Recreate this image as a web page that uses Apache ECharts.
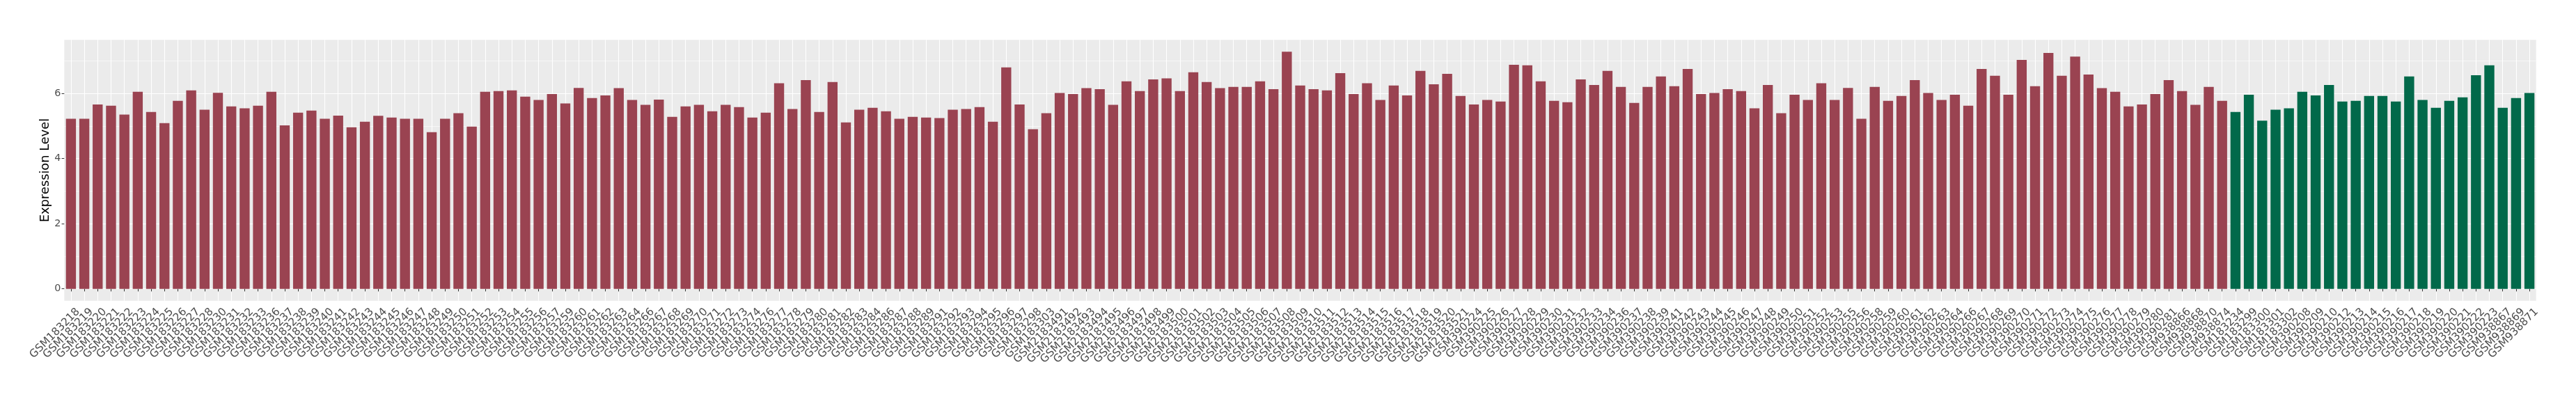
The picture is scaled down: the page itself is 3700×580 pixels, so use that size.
<!DOCTYPE html>
<html><head><meta charset="utf-8">
<script src="https://cdn.jsdelivr.net/npm/echarts@6/dist/echarts.min.js"></script>
<style>html,body{margin:0;padding:0;background:#fff}#c{width:3700px;height:580px}</style>
</head><body><div id="c"></div>
<script>
// Tumor samples (red bars)
const tumorSamples = [
 'GSM183218','GSM183219','GSM183220','GSM183221','GSM183222','GSM183223','GSM183224','GSM183225','GSM183226','GSM183227',
 'GSM183228','GSM183230','GSM183231','GSM183232','GSM183233','GSM183236','GSM183237','GSM183238','GSM183239','GSM183240',
 'GSM183241','GSM183242','GSM183243','GSM183244','GSM183245','GSM183246','GSM183247','GSM183248','GSM183249','GSM183250',
 'GSM183251','GSM183252','GSM183253','GSM183254','GSM183255','GSM183256','GSM183257','GSM183259','GSM183260','GSM183261',
 'GSM183262','GSM183263','GSM183264','GSM183266','GSM183267','GSM183268','GSM183269','GSM183270','GSM183271','GSM183272',
 'GSM183273','GSM183274','GSM183276','GSM183277','GSM183278','GSM183279','GSM183280','GSM183281','GSM183282','GSM183283',
 'GSM183284','GSM183286','GSM183287','GSM183288','GSM183289','GSM183291','GSM183292','GSM183293','GSM183294','GSM183295',
 'GSM183296','GSM183297','GSM183298','GSM183303',
 'GSM2183491','GSM2183492','GSM2183493','GSM2183494','GSM2183495','GSM2183496','GSM2183497','GSM2183498','GSM2183499','GSM2183500',
 'GSM2183501','GSM2183502','GSM2183503','GSM2183504','GSM2183505','GSM2183506','GSM2183507','GSM2183508','GSM2183509','GSM2183510',
 'GSM2183511','GSM2183512','GSM2183513','GSM2183514','GSM2183515','GSM2183516','GSM2183517','GSM2183518','GSM2183519','GSM2183520',
 'GSM2183521',
 'GSM390224','GSM390225','GSM390226','GSM390227','GSM390228','GSM390229','GSM390230','GSM390231','GSM390232','GSM390233',
 'GSM390234','GSM390236','GSM390237','GSM390238','GSM390239','GSM390241','GSM390242','GSM390243','GSM390244','GSM390245',
 'GSM390246','GSM390247','GSM390248','GSM390249','GSM390250','GSM390251','GSM390252','GSM390253','GSM390255','GSM390256',
 'GSM390258','GSM390259','GSM390260','GSM390261','GSM390262','GSM390263','GSM390264','GSM390266','GSM390267','GSM390268',
 'GSM390269','GSM390270','GSM390271','GSM390272','GSM390273','GSM390274','GSM390275','GSM390276','GSM390277','GSM390278',
 'GSM390279','GSM390280','GSM390281','GSM938866','GSM938868','GSM938870','GSM938874'
];
const tumorValues = [
 5.22,5.22,5.66,5.62,5.35,6.05,5.43,5.09,5.77,6.09,
 5.50,6.02,5.60,5.54,5.62,6.05,5.02,5.41,5.47,5.22,
 5.32,4.96,5.13,5.31,5.26,5.22,5.22,4.81,5.22,5.39,
 4.98,6.05,6.07,6.09,5.90,5.80,5.98,5.69,6.17,5.86,
 5.94,6.16,5.80,5.65,5.81,5.28,5.60,5.65,5.45,5.65,
 5.58,5.26,5.41,6.31,5.52,6.41,5.43,6.35,5.11,5.50,
 5.56,5.45,5.22,5.28,5.26,5.24,5.50,5.52,5.58,5.13,
 6.80,5.66,4.90,5.39,
 6.01,5.98,6.16,6.13,5.65,6.37,6.07,6.43,6.46,6.07,
 6.65,6.35,6.16,6.20,6.20,6.37,6.13,7.28,6.24,6.13,
 6.09,6.62,5.98,6.31,5.80,6.24,5.94,6.69,6.28,6.60,
 5.92,
 5.66,5.80,5.75,6.88,6.86,6.37,5.77,5.73,6.43,6.26,
 6.69,6.20,5.71,6.20,6.52,6.22,6.75,5.98,6.01,6.13,
 6.07,5.54,6.26,5.39,5.96,5.80,6.31,5.80,6.17,5.22,
 6.20,5.77,5.92,6.41,6.01,5.80,5.96,5.62,6.75,6.54,
 5.96,7.03,6.22,7.24,6.54,7.13,6.58,6.16,6.05,5.60,
 5.66,5.98,6.41,6.07,5.65,6.20,5.77
];
// Normal samples (green bars)
const normalSamples = [
 'GSM183234','GSM183299','GSM183300','GSM183301','GSM183302','GSM390208','GSM390209','GSM390210','GSM390212','GSM390213',
 'GSM390214','GSM390215','GSM390216','GSM390217','GSM390218','GSM390219','GSM390220','GSM390221','GSM390222','GSM390223',
 'GSM938867','GSM938869','GSM938871'
];
const normalValues = [
 5.43,5.96,5.16,5.50,5.54,6.05,5.94,6.26,5.75,5.77,
 5.92,5.92,5.75,6.52,5.80,5.56,5.77,5.88,6.56,6.86,
 5.56,5.86,6.01
];
const yMajorTicks = [0, 2, 4, 6];
const yMinorTicks = [1, 3, 5, 7];
const yRange = [-0.364, 7.644];
const yTitle = 'Expression Level';

const categories = tumorSamples.concat(normalSamples);
const tumorData = tumorValues.concat(normalSamples.map(() => null));
const normalData = tumorSamples.map(() => null).concat(normalValues);

const chart = echarts.init(document.getElementById('c'), null, {renderer: 'canvas'});
const font = '"DejaVu Sans", Verdana, sans-serif';
chart.setOption({
  animation: false,
  backgroundColor: '#ffffff',
  grid: {left: 92.3, right: 57.3, top: 57.2, bottom: 148.3, show: true, backgroundColor: '#EBEBEB', borderWidth: 0},
  xAxis: {
    type: 'category', data: categories, boundaryGap: true,
    axisLine: {show: false},
    axisTick: {show: true, alignWithLabel: true, length: 3.7, lineStyle: {color: '#333333', width: 1}},
    splitLine: {show: true, alignWithLabel: true, interval: 0, lineStyle: {color: '#FFFFFF', width: 1.1}},
    axisLabel: {interval: 0, rotate: 45, fontSize: 15.5, color: '#4D4D4D', fontFamily: font, margin: 12.5,
                verticalAlign: 'top', align: 'right', padding: [0, -6.6, 0, 0]}
  },
  yAxis: [{
    type: 'value', min: yRange[0], max: yRange[1],
    name: yTitle, nameLocation: 'middle', nameGap: 17.5, nameMoveOverlap: false,
    nameTextStyle: {fontSize: 17.8, color: '#000000', fontFamily: font},
    axisLine: {show: false},
    axisTick: {show: true, length: 3.7, customValues: yMajorTicks, lineStyle: {color: '#333333', width: 1}},
    axisLabel: {customValues: yMajorTicks, fontSize: 14.3, color: '#4D4D4D', fontFamily: font, margin: 5,
                formatter: v => String(v)},
    splitLine: {show: true, lineStyle: {color: '#FFFFFF', width: 1.1}}
  }, {
    type: 'value', min: yRange[0], max: yRange[1], position: 'left',
    axisLine: {show: false}, axisLabel: {show: false},
    axisTick: {show: false, customValues: yMinorTicks},
    splitLine: {show: true, lineStyle: {color: '#FFFFFF', width: 0.6}}
  }],
  series: [{
    type: 'bar', name: 'Tumor', data: tumorData, barWidth: '75%', barGap: '-100%',
    itemStyle: {color: '#9A4351'}
  }, {
    type: 'bar', name: 'Normal', data: normalData, barWidth: '75%', barGap: '-100%',
    itemStyle: {color: '#01694A'}
  }]
});
</script></body></html>
